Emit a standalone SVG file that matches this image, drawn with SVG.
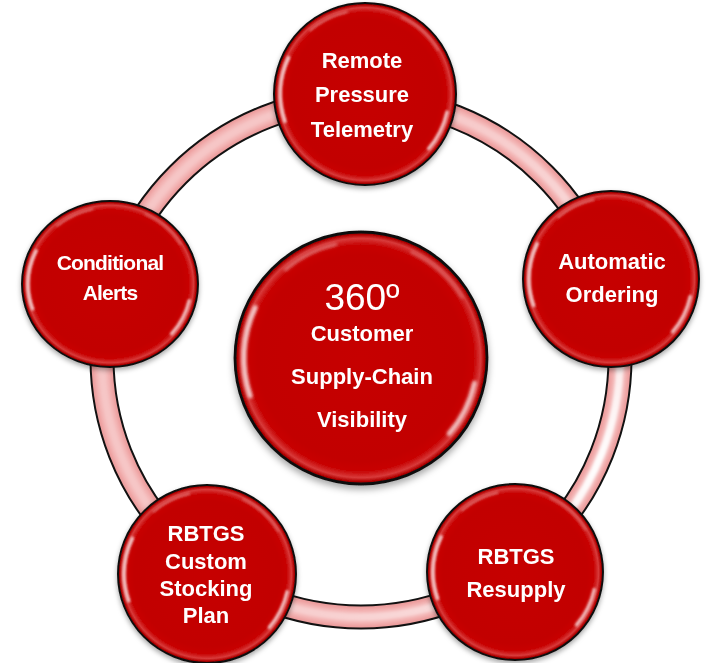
<svg xmlns="http://www.w3.org/2000/svg" xmlns:xlink="http://www.w3.org/1999/xlink" width="708" height="663" viewBox="0 0 708 663">
<style>
.lbl{font-family:"Liberation Sans",Arial,sans-serif;font-weight:bold;font-size:22px;fill:#fff;text-anchor:middle}
.sm{font-size:21px;letter-spacing:-0.8px}
.big{font-family:"Liberation Sans",Arial,sans-serif;font-weight:normal;font-size:37px;fill:#fff;text-anchor:middle}
</style>
<defs>
<radialGradient id="ballGrad" cx="0.5" cy="0.5" r="0.5">
<stop offset="0" stop-color="#c60000"/>
<stop offset="0.82" stop-color="#c20000"/>
<stop offset="0.9" stop-color="#c80606"/>
<stop offset="0.95" stop-color="#d83a3a"/>
<stop offset="0.98" stop-color="#b00000"/>
<stop offset="1" stop-color="#7a0000"/>
</radialGradient>
<radialGradient id="ringShine" gradientUnits="userSpaceOnUse" cx="610" cy="470" r="420">
<stop offset="0" stop-color="#fff" stop-opacity="1"/>
<stop offset="0.45" stop-color="#fff" stop-opacity="0.55"/>
<stop offset="1" stop-color="#fff" stop-opacity="0.25"/>
</radialGradient>
<filter id="shadow" x="-20%" y="-20%" width="140%" height="140%">
<feDropShadow dx="0" dy="3" stdDeviation="3" flood-color="#000" flood-opacity="0.35"/>
</filter>
<filter id="blur" x="-20%" y="-20%" width="140%" height="140%">
<feGaussianBlur stdDeviation="1.2"/>
</filter>
<filter id="soft" x="-5%" y="-5%" width="110%" height="110%">
<feGaussianBlur stdDeviation="1.5"/>
</filter>
<g id="bead">
<circle r="100" fill="url(#ballGrad)" stroke="#111" stroke-width="2.2" filter="url(#shadow)"/>
<g fill="none" stroke="#fff" stroke-linecap="round" filter="url(#blur)">
<path d="M -84 -40 A 93 93 0 0 0 -88 30" stroke-width="4" opacity="0.75"/>
<path d="M -60 -70 A 93 93 0 0 1 -20 -90" stroke-width="2.5" opacity="0.35"/>
<path d="M 90 20 A 93 93 0 0 1 70 60" stroke-width="4" opacity="0.7"/>
<path d="M 40 -84 A 93 93 0 0 1 80 -48" stroke-width="2" opacity="0.3"/>
</g>
</g>
</defs>
<rect width="708" height="663" fill="#fff"/>
<g id="connectors">
<circle cx="361" cy="358" r="259" fill="none" stroke="#111" stroke-width="25"/>
<circle cx="361" cy="358" r="259" fill="none" stroke="#ec9c9c" stroke-width="21"/>
<circle cx="361" cy="358" r="259" fill="none" stroke="#f3b3b3" stroke-width="16" filter="url(#soft)"/>
<circle cx="361" cy="358" r="259" fill="none" stroke="url(#ringShine)" stroke-width="8" filter="url(#soft)"/>
</g>
<g id="node-center">
<use xlink:href="#bead" href="#bead" transform="translate(361,358) scale(1.26)"/>
<text class="big" x="362" y="310">360º</text>
<text class="lbl" x="362" y="341">Customer</text>
<text class="lbl" x="362" y="384">Supply-Chain</text>
<text class="lbl" x="362" y="427">Visibility</text>
</g>
<g id="node-remote">
<use xlink:href="#bead" href="#bead" transform="translate(365,94) scale(0.91)"/>
<text class="lbl" x="362" y="68">Remote</text>
<text class="lbl" x="362" y="102">Pressure</text>
<text class="lbl" x="362" y="137">Telemetry</text>
</g>
<g id="node-ordering">
<use xlink:href="#bead" href="#bead" transform="translate(611,279) scale(0.88)"/>
<text class="lbl" x="612" y="269">Automatic</text>
<text class="lbl" x="612" y="302">Ordering</text>
</g>
<g id="node-resupply">
<use xlink:href="#bead" href="#bead" transform="translate(515,572) scale(0.88)"/>
<text class="lbl" x="516" y="564">RBTGS</text>
<text class="lbl" x="516" y="597">Resupply</text>
</g>
<g id="node-stocking">
<use xlink:href="#bead" href="#bead" transform="translate(207,574) scale(0.89)"/>
<text class="lbl" x="206" y="541">RBTGS</text>
<text class="lbl" x="206" y="569">Custom</text>
<text class="lbl" x="206" y="596">Stocking</text>
<text class="lbl" x="206" y="623">Plan</text>
</g>
<g id="node-alerts">
<use xlink:href="#bead" href="#bead" transform="translate(110,284) scale(0.88,0.83)"/>
<text class="lbl sm" x="110" y="270">Conditional</text>
<text class="lbl sm" x="110" y="300">Alerts</text>
</g>
</svg>
